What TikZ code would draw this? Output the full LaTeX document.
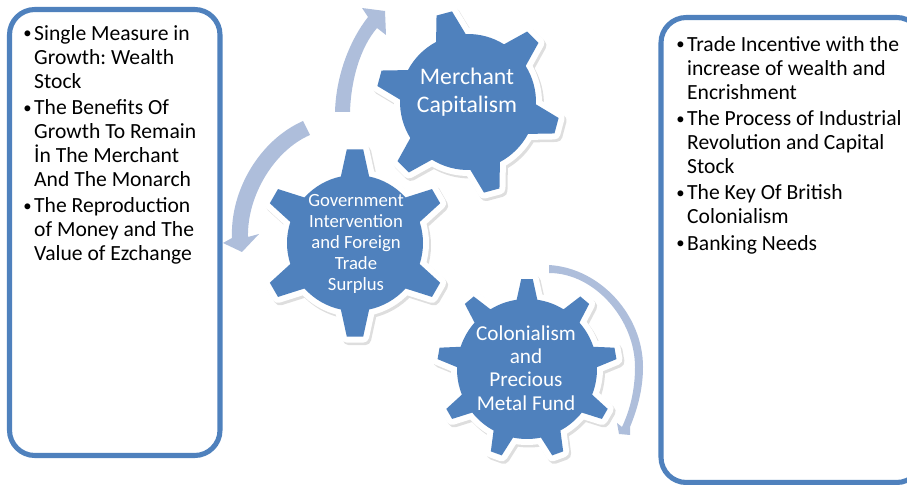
\documentclass[tikz,border=0pt]{standalone}
\usepackage{fontspec}
\setmainfont{Carlito}
\usetikzlibrary{calc, positioning}
\definecolor{gearblue}{RGB}{79,129,189}
\definecolor{arrowblue}{RGB}{174,190,219}
\tikzset{
    panel/.style={draw=gearblue, line width=3.8pt, rounded corners=19pt, fill=white},
    gearshadow/.style={draw=black!13, fill=black!13, line width=9pt, line join=round},
    gearhalo/.style={draw=white, fill=white, line width=9pt, line join=round},
    gearbody/.style={fill=gearblue},
    gearlabel/.style={text=white, align=center, inner sep=0pt},
    bulletlist/.style={anchor=north west, inner sep=0pt, text width=#1, align=flush left, font=\fontsize{16.2}{18}\selectfont\frenchspacing},
    curvedarrow/.style={fill=arrowblue, draw=none}
}
% teeth, first tooth angle, body radius, tip radius, half width at base, half width at tip
\newcommand{\gearpath}[6]{
    ({#2-#5}:#3) \foreach \k in {1,...,#1} {
        -- ({#2+(\k-1)*360/#1-#6}:#4) -- ({#2+(\k-1)*360/#1+#6}:#4) -- ({#2+(\k-1)*360/#1+#5}:#3)
        arc[start angle={#2+(\k-1)*360/#1+#5}, delta angle={360/#1-2*#5}, radius=#3]
    } -- cycle
}
\newcommand{\gearat}[8]{
    \path[gearshadow, shift={(#1+2,#2-2.5)}] \gearpath{#3}{#4}{#5}{#6}{#7}{#8};
    \path[gearhalo, shift={(#1,#2)}] \gearpath{#3}{#4}{#5}{#6}{#7}{#8};
    \path[gearbody, shift={(#1,#2)}] \gearpath{#3}{#4}{#5}{#6}{#7}{#8};
}
\newcommand{\bulletitem}[1]{{\leftskip=8.2pt\noindent\llap{\makebox[8.2pt][l]{\fontsize{12.5}{12.5}\selectfont\raisebox{1pt}{•}}}#1\par}\vspace{1.7pt}}
\begin{document}
\begin{tikzpicture}[x=0.75pt, y=0.75pt]
    \useasboundingbox (0,0) rectangle (907,485);

    % Side panels
    \draw[panel] (9.5,29.5) rectangle (220,475.5);
    \begin{scope}
        \clip (0,0) rectangle (907,485);
        \draw[panel] (661,2.5) rectangle (922,467.5);
    \end{scope}
    \node[bulletlist=165pt] (leftlist) at (23,460) {%
        \bulletitem{Single Measure in\\Growth: Wealth\\Stock}
        \bulletitem{The Benefits Of\\Growth To Remain\\İn The Merchant\\And The Monarch}
        \bulletitem{The Reproduction\\of Money and The\\Value of Ezchange}};
    \node[bulletlist=175pt] (rightlist) at (676,449) {%
        \bulletitem{Trade Incentive with the\\increase of wealth and\\Encrishment}
        \bulletitem{The Process of Industrial\\Revolution and Capital\\Stock}
        \bulletitem{The Key Of British\\Colonialism}
        \bulletitem{Banking Needs}};

    % Gears
    \gearat{468}{383}{6}{45}{68}{92}{13}{5}
    \gearat{355}{242}{6}{30}{68}{94}{12}{5}
    \gearat{527}{116}{9}{10}{70}{90}{8.5}{3.7}
    \node[gearlabel, font=\fontsize{17.8}{21}\selectfont] (merchant) at (467,393) {Merchant\\Capitalism};
    \node[gearlabel, font=\fontsize{14}{15.7}\selectfont] (government) at (356,241) {Government\\Intervention\\and Foreign\\Trade\\Surplus};
    \node[gearlabel, font=\fontsize{15.9}{17.4}\selectfont] (colonialism) at (526,117) {Colonialism\\and\\Precious\\Metal Fund};

    % Arrows between the gears
    \fill[curvedarrow] (335,373) .. controls (336,410) and (350,445) .. (368,468)
        -- (362,477) -- (385,474) -- (386,450) -- (377,457)
        .. controls (360,437) and (351,405) .. (350,373) -- cycle;
    \fill[curvedarrow] (303,364) .. controls (260,345) and (230,295) .. (232,247)
        -- (223,242) -- (242,233) -- (259,251) -- (248,248)
        .. controls (247,290) and (275,335) .. (310,350) -- cycle;
    \fill[curvedarrow] (549,220) .. controls (600,217) and (643,170) .. (643,118)
        .. controls (643,95) and (637,75) .. (630,58)
        -- (630,50) -- (619,51) -- (617,62) -- (622,58)
        .. controls (630,75) and (635,95) .. (635,118)
        .. controls (635,165) and (595,212) .. (549,212) -- cycle;
\end{tikzpicture}
\end{document}
